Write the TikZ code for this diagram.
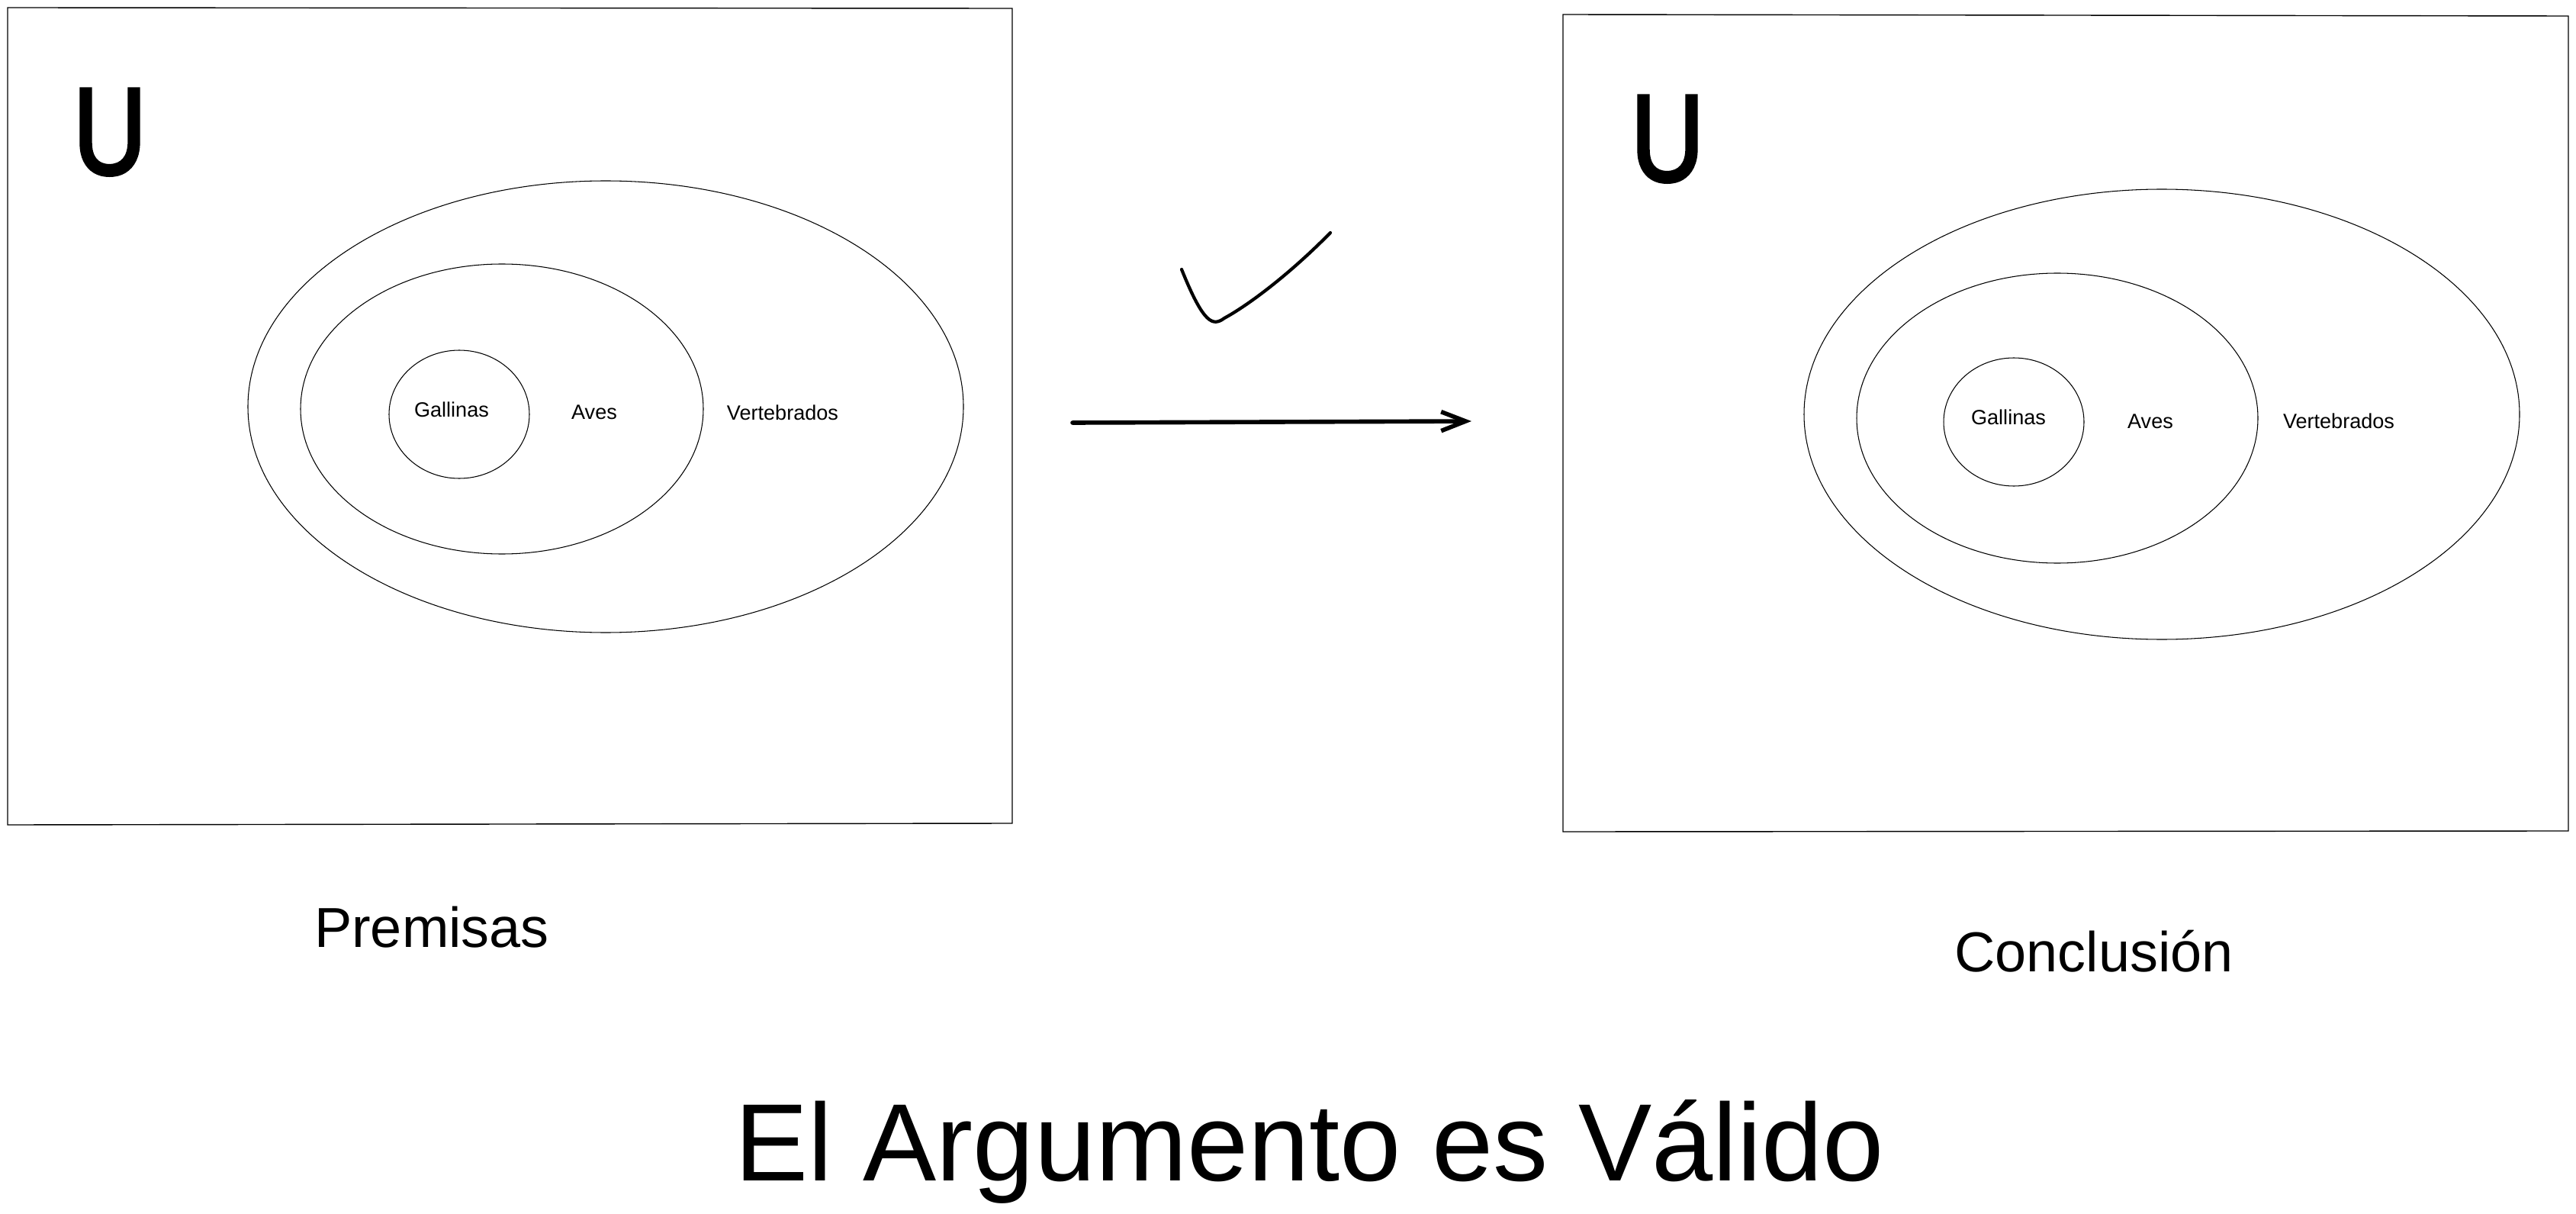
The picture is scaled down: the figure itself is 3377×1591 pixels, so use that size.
\documentclass[tikz,border=0pt]{standalone}
\usepackage{fontspec}
\setmainfont{Liberation Sans}
\newfontfamily\ufont[FakeBold=3]{Liberation Sans}
\usetikzlibrary{arrows.meta}

\tikzset{
  caja/.style={draw, line width=0.4pt, line join=miter},
  conjunto/.style={draw, line width=0.3pt},
  etiqueta/.style={font=\fontsize{7.7}{9}\selectfont, inner sep=0, anchor=base},
  rotulo/.style={font=\fontsize{21}{25}\selectfont, inner sep=0, anchor=base},
  universo/.style={font=\ufont\fontsize{46}{50}\selectfont, inner sep=0, anchor=base}
}

\begin{document}
\begin{tikzpicture}[x=0.01cm, y=-0.01cm]
    \useasboundingbox (0,0) rectangle (3377,1591);

    % Premisas (recuadro izquierdo)
    \draw[caja] (10,10) -- (1327,11) -- (1327,1079) -- (10,1081) -- cycle;
    \node[universo] (uIzq) at (144,228) {\scalebox{0.82}[1]{U}};
    \draw[conjunto] (794,533) ellipse (469 and 296);
    \draw[conjunto] (658,536) ellipse (264 and 190);
    \draw[conjunto] (602,543) ellipse (92 and 84);
    \node[etiqueta] (gallIzq) at (592,546) {Gallinas};
    \node[etiqueta] (avesIzq) at (779,549) {Aves};
    \node[etiqueta] (vertIzq) at (1026,550) {Vertebrados};

    % Conclusión (recuadro derecho)
    \draw[caja] (2049,19) -- (3367,21) -- (3367,1089) -- (2049,1090) -- cycle;
    \node[universo] (uDer) at (2186,237) {\scalebox{0.82}[1]{U}};
    \draw[conjunto] (2834,543) ellipse (469 and 295);
    \draw[conjunto] (2697,548) ellipse (263 and 190);
    \draw[conjunto] (2640,553) ellipse (92 and 84);
    \node[etiqueta] (gallDer) at (2633,557) {Gallinas};
    \node[etiqueta] (avesDer) at (2819,561) {Aves};
    \node[etiqueta] (vertDer) at (3066,561) {Vertebrados};

    % Marca de validez y flecha
    \draw[line width=1.2pt, line cap=round]
      (1549,353) .. controls (1578,425) and (1590,428) .. (1605,417)
      .. controls (1645,395) and (1700,350) .. (1744,305);
    \coordinate (ini) at (1406,554);
    \coordinate (fin) at (1929,552);
    \draw[line width=1.6pt, line cap=round,
      -{Straight Barb[length=0.32cm, width=0.25cm]}] (ini) -- (fin);

    % Rótulos
    \node[rotulo] (premisas) at (566,1241) {Premisas};
    \node[rotulo] (conclusion) at (2745,1273) {Conclusión};
    \node[font=\fontsize{41}{46}\selectfont, inner sep=0, anchor=base]
      (titulo) at (1717,1547) {El Argumento es Válido};
\end{tikzpicture}
\end{document}
